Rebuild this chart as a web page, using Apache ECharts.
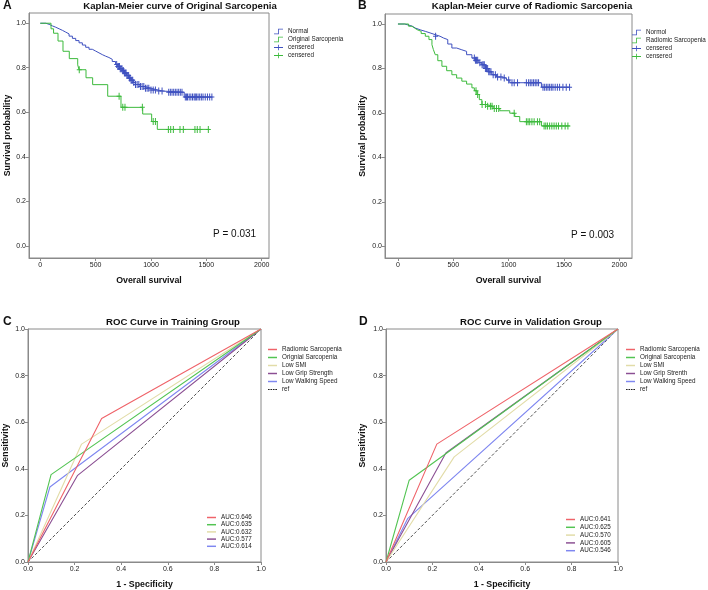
<!DOCTYPE html>
<html>
<head>
<meta charset="UTF-8">
<title>Sarcopenia KM and ROC</title>
<script type="text/javascript" src="https://cdn.jsdelivr.net/npm/echarts@6.0.0/dist/echarts.min.js"></script>
<style type="text/css">
	body{ margin:0; background:#fff; }
	#main{ width:708px; height:590px; }
</style>
</head>
<body>
<div id="main"></div>
<script type="text/javascript">
	// ---- Kaplan-Meier, panel A (Original Sarcopenia) ----
	var aNormT = [0, 50, 80, 110, 140, 170, 200, 230, 260, 290, 320, 350, 380, 410, 440, 470, 500, 530, 560, 590, 620, 650, 680, 700, 720, 740, 760, 780, 800, 820, 840, 860, 900, 940, 1000, 1060, 1110, 1300, 1555];
	var aNormS = [1, 0.995, 0.988, 0.982, 0.975, 0.968, 0.96, 0.952, 0.942, 0.932, 0.922, 0.912, 0.902, 0.892, 0.883, 0.875, 0.867, 0.859, 0.852, 0.846, 0.838, 0.828, 0.815, 0.806, 0.796, 0.787, 0.776, 0.765, 0.754, 0.744, 0.734, 0.725, 0.716, 0.708, 0.70, 0.695, 0.69, 0.668, 0.668];
	var aNormCens = [690, 700, 708, 715, 722, 730, 738, 745, 752, 760, 768, 775, 782, 790, 798, 805, 812, 820, 828, 835, 845, 860, 875, 890, 905, 920, 935, 950, 965, 980, 1000, 1020, 1040, 1070, 1100, 1160, 1175, 1190, 1205, 1220, 1235, 1250, 1265, 1280, 1310, 1320, 1330, 1345, 1360, 1375, 1390, 1400, 1410, 1425, 1440, 1455, 1470, 1490, 1510, 1530, 1550];
	var aSarcT = [0, 97, 120, 160, 205, 262, 338, 350, 413, 473, 609, 729, 925, 1006, 1057, 1530];
	var aSarcS = [1, 0.975, 0.955, 0.92, 0.874, 0.841, 0.813, 0.791, 0.755, 0.724, 0.672, 0.622, 0.592, 0.558, 0.523, 0.523];
	var aSarcCens = [352, 712, 745, 765, 922, 1020, 1040, 1157, 1178, 1202, 1262, 1292, 1397, 1418, 1443, 1518];

	// ---- Kaplan-Meier, panel B (Radiomic Sarcopenia) ----
	var bNormT = [0, 60, 96, 130, 156, 200, 247, 290, 337, 380, 412, 450, 487, 530, 577, 620, 668, 700, 730, 758, 790, 820, 848, 890, 938, 980, 1010, 1296, 1555];
	var bNormS = [1, 0.995, 0.99, 0.982, 0.974, 0.967, 0.96, 0.952, 0.945, 0.937, 0.93, 0.91, 0.892, 0.884, 0.877, 0.862, 0.847, 0.837, 0.826, 0.817, 0.8, 0.785, 0.772, 0.762, 0.757, 0.748, 0.736, 0.716, 0.716];
	var bNormCens = [340, 690, 700, 710, 720, 740, 760, 770, 780, 790, 800, 810, 820, 830, 840, 860, 880, 900, 930, 960, 1000, 1030, 1050, 1080, 1160, 1180, 1195, 1210, 1225, 1240, 1255, 1270, 1310, 1325, 1340, 1355, 1370, 1385, 1400, 1420, 1440, 1460, 1490, 1520, 1550];
	var bSarcT = [0, 96, 126, 150, 171, 210, 247, 280, 307, 320, 337, 360, 397, 440, 487, 530, 577, 620, 668, 690, 713, 735, 758, 800, 860, 920, 1010, 1055, 1100, 1296, 1552];
	var bSarcS = [1, 0.99, 0.982, 0.975, 0.967, 0.957, 0.945, 0.93, 0.907, 0.885, 0.862, 0.835, 0.81, 0.79, 0.772, 0.757, 0.743, 0.73, 0.713, 0.7, 0.683, 0.66, 0.638, 0.63, 0.62, 0.61, 0.599, 0.584, 0.561, 0.542, 0.542];
	var bSarcCens = [705, 720, 760, 790, 810, 835, 850, 870, 890, 910, 1050, 1160, 1175, 1190, 1210, 1230, 1260, 1280, 1320, 1335, 1350, 1370, 1390, 1410, 1430, 1450, 1480, 1510, 1535];

	var kmTicksX = [0, 500, 1000, 1500, 2000];
	var probTicks = [0, 0.2, 0.4, 0.6, 0.8, 1.0];

	// ---- ROC, cut points [1-specificity, sensitivity] ----
	var rocNamesC = ['Radiomic Sarcopenia', 'Orignial Sarcopenia', 'Low SMI', 'Low Grip Strength', 'Low Walking Speed', 'ref'];
	var rocNamesD = ['Radiomic Sarcopenia', 'Original Sarcopenia', 'Low SMI', 'Low Grip Strenth', 'Low Walking Speed', 'ref'];
	var rocPointsC = [
		[[0, 0], [0.316, 0.616], [1, 1]],
		[[0, 0], [0.099, 0.375], [1, 1]],
		[[0, 0], [0.23, 0.506], [1, 1]],
		[[0, 0], [0.213, 0.372], [1, 1]],
		[[0, 0], [0.094, 0.322], [1, 1]],
		[[0, 0], [1, 1]]
	];
	var rocPointsD = [
		[[0, 0], [0.219, 0.506], [1, 1]],
		[[0, 0], [0.1, 0.351], [1, 1]],
		[[0, 0], [0.294, 0.451], [1, 1]],
		[[0, 0], [0.258, 0.468], [1, 1]],
		[[0, 0], [0.093, 0.186], [1, 1]],
		[[0, 0], [1, 1]]
	];
	var aucC = ['AUC:0.646', 'AUC:0.635', 'AUC:0.632', 'AUC:0.577', 'AUC:0.614'];
	var aucD = ['AUC:0.641', 'AUC:0.625', 'AUC:0.570', 'AUC:0.605', 'AUC:0.546'];
	var rocColors = ['#ef6369', '#52c452', '#e2dca8', '#8b4f93', '#7f87f0', '#222222'];

	var KM_BLUE = '#3f51c0';
	var KM_GREEN = '#3cba3c';
	var FONT = 'Liberation Sans, Arial, sans-serif';
	var AX = '#8a8a8a';

	var plusSym = 'path://M2,0H3V7H2Z M0,3H5V4H0Z';
	var stepIcon = 'path://M0,6H5V0H11V1H6V7H0Z';
	var censIcon = 'path://M0,3H5V0H6V3H11V4H6V7H5V4H0Z';
	var barIcon = 'path://M0,0M0,2.6H11V4.4H0Z M11,7';
	var dashIcon = 'path://M0,0M0,3H2V4.2H0Z M3,3H5V4.2H3Z M6,3H8V4.2H6Z M9,3H11V4.2H9Z M11,7';

	function survAt(ts, ss, t){
		var v = ss[0];
		for(var i = 0;i<ts.length;i++){
			if(ts[i] <= t) v = ss[i];
		}
		return v;
	}

	function kmLine(name, ts, ss, color, idx){
		return {
			name: name, type: 'line', step: 'end', symbol: 'none', silent: true,
			xAxisIndex: idx, yAxisIndex: idx,
			data: ts.map(function(t, i){ return [t, ss[i]]; }),
			lineStyle: { color: color, width: 1 },
			itemStyle: { color: color },
			z: 2
		};
	}
	function kmCens(name, cens, ts, ss, color, idx){
		return {
			name: name, type: 'scatter', symbol: plusSym, symbolSize: [5, 7], silent: true,
			xAxisIndex: idx, yAxisIndex: idx,
			data: cens.map(function(c){ return [c, survAt(ts, ss, c)]; }),
			itemStyle: { color: color, opacity: 1 },
			z: 3
		};
	}
	function rocSeries(prefix, names, pts, idx){
		return names.map(function(n, i){
			return {
				name: prefix + n, type: 'line', symbol: 'none', silent: true,
				xAxisIndex: idx, yAxisIndex: idx,
				data: pts[i],
				lineStyle: { color: rocColors[i], width: i == 5 ? 0.8 : 1.1, type: i == 5 ? [3, 2] : 'solid' },
				itemStyle: { color: rocColors[i] },
				z: i == 5 ? 1 : 6 - i
			};
		});
	}

	function xAx(idx, min, max, ticks, name, gap, fmt){
		return {
			gridIndex: idx, type: 'value', min: min, max: max,
			name: name, nameLocation: 'middle', nameGap: gap,
			nameTextStyle: { fontFamily: FONT, fontWeight: 'bold', fontSize: 8.8, color: '#111' },
			axisLine: { show: true, onZero: false, lineStyle: { color: AX } },
			axisTick: { show: true, length: 3, customValues: ticks, lineStyle: { color: AX } },
			axisLabel: { customValues: ticks, margin: 4, fontSize: 7, fontFamily: FONT, color: '#222', formatter: fmt },
			splitLine: { show: false }
		};
	}
	function yAx(idx, min, max, name, gap){
		return {
			gridIndex: idx, type: 'value', min: min, max: max,
			name: name, nameLocation: 'middle', nameGap: gap,
			nameTextStyle: { fontFamily: FONT, fontWeight: 'bold', fontSize: 8.8, color: '#111' },
			axisLine: { show: true, onZero: false, lineStyle: { color: AX } },
			axisTick: { show: true, length: 3, customValues: probTicks, lineStyle: { color: AX } },
			axisLabel: { customValues: probTicks, margin: 3, fontSize: 7, fontFamily: FONT, color: '#222',
				formatter: function(v){ return v.toFixed(1); } },
			splitLine: { show: false }
		};
	}
	function oneDec(v){ return v.toFixed(1); }
	function plain(v){ return String(v); }

	function legendBox(left, top, w, gap, items, fmt){
		return {
			orient: 'vertical', left: left, top: top, padding: 0, itemGap: gap,
			itemWidth: w, itemHeight: 7, selectedMode: false,
			textStyle: { fontFamily: FONT, fontSize: 6.3, lineHeight: 7, color: '#222' },
			data: items, formatter: fmt
		};
	}
	function afterBar(n){ return n.split('|')[1]; }

	var series = [];
	series.push(kmLine('A|Normal', aNormT, aNormS, KM_BLUE, 0));
	series.push(kmLine('A|Original Sarcopenia', aSarcT, aSarcS, KM_GREEN, 0));
	series.push(kmCens('A|censered', aNormCens, aNormT, aNormS, KM_BLUE, 0));
	series.push(kmCens('A|censered ', aSarcCens, aSarcT, aSarcS, KM_GREEN, 0));
	series.push(kmLine('B|Normol', bNormT, bNormS, KM_BLUE, 1));
	series.push(kmLine('B|Radiomic Sarcopenia', bSarcT, bSarcS, KM_GREEN, 1));
	series.push(kmCens('B|censered', bNormCens, bNormT, bNormS, KM_BLUE, 1));
	series.push(kmCens('B|censered ', bSarcCens, bSarcT, bSarcS, KM_GREEN, 1));
	series = series.concat(rocSeries('C|', rocNamesC, rocPointsC, 2));
	series = series.concat(rocSeries('D|', rocNamesD, rocPointsD, 3));

	var rocLegendC = rocNamesC.map(function(n, i){ return { name: 'C|' + n, icon: i == 5 ? dashIcon : barIcon }; });
	var rocLegendD = rocNamesD.map(function(n, i){ return { name: 'D|' + n, icon: i == 5 ? dashIcon : barIcon }; });
	var aucLegendC = rocNamesC.slice(0, 5).map(function(n){ return { name: 'C|' + n, icon: barIcon }; });
	var aucLegendD = rocNamesD.slice(0, 5).map(function(n){ return { name: 'D|' + n, icon: barIcon }; });

	var titleStyle = { fontFamily: FONT, fontWeight: 'bold', fontSize: 9.6, color: '#111' };
	var letterStyle = { fontFamily: FONT, fontWeight: 'bold', fontSize: 12, color: '#111' };
	var pStyle = { fontFamily: FONT, fontWeight: 'normal', fontSize: 10, color: '#111' };

	var myChart = echarts.init(document.getElementById('main'));
	var option = {
		backgroundColor: '#fff',
		animation: false,
		title: [
			{ text: 'A', left: 3, top: 0, padding: 0, textStyle: letterStyle },
			{ text: 'Kaplan-Meier curve of Original Sarcopenia', left: 180, top: 1, padding: 0, textAlign: 'center', textStyle: titleStyle },
			{ text: 'B', left: 358, top: 0, padding: 0, textStyle: letterStyle },
			{ text: 'Kaplan-Meier curve of Radiomic Sarcopenia', left: 532, top: 1, padding: 0, textAlign: 'center', textStyle: titleStyle },
			{ text: 'C', left: 3, top: 316, padding: 0, textStyle: letterStyle },
			{ text: 'ROC Curve in Training Group', left: 173, top: 317, padding: 0, textAlign: 'center', textStyle: titleStyle },
			{ text: 'D', left: 359, top: 316, padding: 0, textStyle: letterStyle },
			{ text: 'ROC Curve in Validation Group', left: 531, top: 317, padding: 0, textAlign: 'center', textStyle: titleStyle },
			{ text: 'P = 0.031', left: 213, top: 229, padding: 0, textStyle: pStyle },
			{ text: 'P = 0.003', left: 571, top: 230, padding: 0, textStyle: pStyle }
		],
		grid: [
			{ left: 29, top: 13, width: 240, height: 245, show: true, borderColor: AX, borderWidth: 1, backgroundColor: '#fff' },
			{ left: 385, top: 14, width: 247, height: 244, show: true, borderColor: AX, borderWidth: 1, backgroundColor: '#fff' },
			{ left: 28, top: 329, width: 233, height: 233, show: true, borderColor: AX, borderWidth: 1, backgroundColor: '#fff' },
			{ left: 386, top: 329, width: 232, height: 233, show: true, borderColor: AX, borderWidth: 1, backgroundColor: '#fff' }
		],
		xAxis: [
			xAx(0, -102, 2066, kmTicksX, 'Overall survival', 18, plain),
			xAx(1, -117, 2114, kmTicksX, 'Overall survival', 18, plain),
			xAx(2, 0, 1, probTicks, '1 - Specificity', 18, oneDec),
			xAx(3, 0, 1, probTicks, '1 - Specificity', 18, oneDec)
		],
		yAxis: [
			yAx(0, -0.055, 1.046, 'Survival probability', 17),
			yAx(1, -0.052, 1.045, 'Survival probability', 18),
			yAx(2, 0, 1, 'Sensitivity', 18),
			yAx(3, 0, 1, 'Sensitivity', 19)
		],
		legend: [
			legendBox(274, 28, 9, 1, [
				{ name: 'A|Normal', icon: stepIcon },
				{ name: 'A|Original Sarcopenia', icon: stepIcon },
				{ name: 'A|censered', icon: censIcon },
				{ name: 'A|censered ', icon: censIcon }
			], afterBar),
			legendBox(632, 29, 9, 1, [
				{ name: 'B|Normol', icon: stepIcon },
				{ name: 'B|Radiomic Sarcopenia', icon: stepIcon },
				{ name: 'B|censered', icon: censIcon },
				{ name: 'B|censered ', icon: censIcon }
			], afterBar),
			legendBox(268, 346, 9, 1, rocLegendC, afterBar),
			legendBox(626, 346, 9, 1, rocLegendD, afterBar),
			legendBox(207, 514, 9, 0.2, aucLegendC, function(n){ return aucC[rocNamesC.indexOf(afterBar(n))]; }),
			legendBox(566, 516, 9, 0.8, aucLegendD, function(n){ return aucD[rocNamesD.indexOf(afterBar(n))]; })
		],
		series: series
	};
	myChart.setOption(option);
</script>
</body>
</html>
